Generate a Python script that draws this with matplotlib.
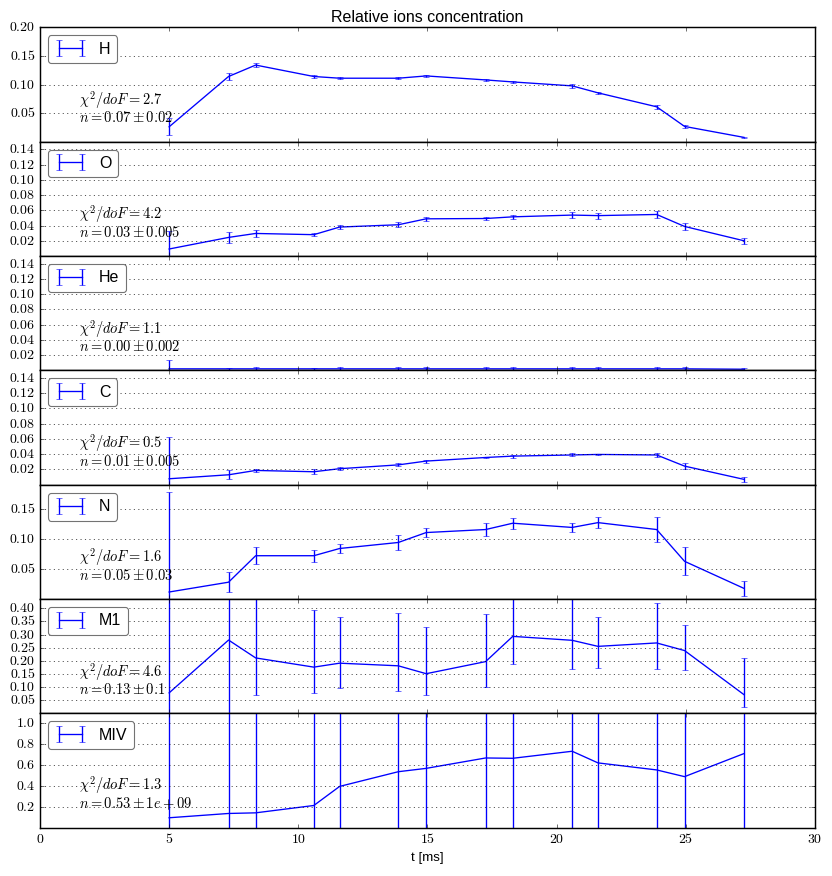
import matplotlib
matplotlib.use("Agg")
import matplotlib.pyplot as plt

plt.style.use('classic')
plt.rcParams['font.family'] = ['Liberation Sans', 'DejaVu Sans']
plt.rcParams['mathtext.fontset'] = 'cm'

t = [5.0, 7.3, 8.35, 10.6, 11.6, 13.87, 14.95, 17.25, 18.3, 20.6, 21.6, 23.87, 24.95, 27.25]

H = [0.026, 0.114, 0.134, 0.114, 0.111, 0.111, 0.115, 0.108, 0.1045, 0.0976, 0.0854, 0.061, 0.0267, 0.0075]
H_err = [0.015, 0.006, 0.003, 0.003, 0.002, 0.002, 0.002, 0.002, 0.002, 0.003, 0.002, 0.004, 0.003, 0.001]

O = [0.0092, 0.0244, 0.0296, 0.028, 0.038, 0.041, 0.0488, 0.0492, 0.0514, 0.0537, 0.053, 0.0545, 0.0388, 0.020]
O_err = [0.023, 0.007, 0.004, 0.002, 0.003, 0.003, 0.003, 0.002, 0.003, 0.004, 0.004, 0.004, 0.005, 0.004]

He = [0.002, 0.002, 0.002, 0.002, 0.002, 0.002, 0.002, 0.002, 0.002, 0.002, 0.002, 0.002, 0.002, 0.0015]
He_err = [0.011, 0.001, 0.003, 0.001, 0.003, 0.003, 0.002, 0.002, 0.002, 0.002, 0.002, 0.002, 0.002, 0.002]

C = [0.0078, 0.013, 0.0187, 0.017, 0.021, 0.026, 0.031, 0.0357, 0.0375, 0.039, 0.0397, 0.039, 0.0244, 0.007]
C_err = [0.055, 0.006, 0.002, 0.003, 0.002, 0.002, 0.002, 0.001, 0.002, 0.002, 0.001, 0.003, 0.004, 0.003]

N = [0.0117, 0.028, 0.072, 0.072, 0.084, 0.094, 0.1105, 0.1155, 0.126, 0.119, 0.127, 0.1155, 0.0627, 0.0177]
N_err = [0.167, 0.017, 0.014, 0.010, 0.008, 0.013, 0.008, 0.011, 0.009, 0.007, 0.009, 0.021, 0.023, 0.013]

M1 = [0.078, 0.279, 0.211, 0.176, 0.191, 0.181, 0.151, 0.197, 0.293, 0.278, 0.255, 0.268, 0.239, 0.0713]
M1_lo = [0.10, 0.30, 0.14, 0.097, 0.094, 0.096, 0.080, 0.0965, 0.106, 0.110, 0.083, 0.100, 0.074, 0.046]
M1_hi = [0.50, 0.40, 0.30, 0.219, 0.177, 0.201, 0.176, 0.183, 0.25, 0.25, 0.113, 0.153, 0.099, 0.139]

MIV = [0.095, 0.136, 0.142, 0.212, 0.394, 0.534, 0.566, 0.665, 0.662, 0.729, 0.618, 0.551, 0.487, 0.707]
MIV_err = [2.0, 2.0, 2.0, 2.0, 2.0, 2.0, 2.0, 2.0, 2.0, 2.0, 2.0, 2.0, 2.0, 2.0]

names = ['H', 'O', 'He', 'C', 'N', 'M1', 'MIV']
chi2 = ['2.7', '4.2', '1.1', '0.5', '1.6', '4.6', '1.3']
n_fit = [r'0.07 \pm 0.02', r'0.03 \pm 0.005', r'0.00 \pm 0.002', r'0.01 \pm 0.005',
         r'0.05 \pm 0.03', r'0.13 \pm 0.1', r'0.53 \pm 1e+09']

series = [(H, H_err), (O, O_err), (He, He_err), (C, C_err), (N, N_err),
          (M1, [M1_lo, M1_hi]), (MIV, MIV_err)]
ylims = [0.2, 0.15, 0.15, 0.15, 0.19, 0.435, 1.09]
yticks = [[0.05, 0.10, 0.15, 0.20],
          [0.02, 0.04, 0.06, 0.08, 0.10, 0.12, 0.14],
          [0.02, 0.04, 0.06, 0.08, 0.10, 0.12, 0.14],
          [0.02, 0.04, 0.06, 0.08, 0.10, 0.12, 0.14],
          [0.05, 0.10, 0.15],
          [0.05, 0.10, 0.15, 0.20, 0.25, 0.30, 0.35, 0.40],
          [0.2, 0.4, 0.6, 0.8, 1.0]]
yfmt = ['%.2f', '%.2f', '%.2f', '%.2f', '%.2f', '%.2f', '%.1f']
xticks = [0, 5, 10, 15, 20, 25, 30]

fig, axes = plt.subplots(7, 1, sharex=True, figsize=(10.4, 10.95), dpi=80)
fig.subplots_adjust(left=0.048, right=0.9796, top=0.9688, bottom=0.0551, hspace=0)

for i, ax in enumerate(axes):
    y, e = series[i]
    ax.errorbar(t, y, yerr=e, color='b', label=names[i], linewidth=1.2, elinewidth=1.2)
    ax.set_ylim(0, ylims[i])
    ax.set_yticks(yticks[i])
    ax.set_yticklabels(['$' + (yfmt[i] % v) + '$' for v in yticks[i]], fontsize=12.5)
    ax.yaxis.grid(True, linestyle=':', color='k', linewidth=0.6)
    ax.xaxis.grid(False)
    ax.set_xlim(0, 30)
    ax.text(0.05, 0.3, r'$\chi^2/doF = %s$' % chi2[i] + '\n' + r'$n = %s$' % n_fit[i],
            transform=ax.transAxes, va='center', ha='left', fontsize=13, linespacing=0.95)
    leg = ax.legend(loc='upper left', fancybox=True, fontsize='large', numpoints=2)
    leg.get_frame().set_edgecolor('0.45')
    leg.get_frame().set_linewidth(1.0)
    for s in ax.spines.values():
        s.set_linewidth(1.3)

axes[-1].set_xticks(xticks)
axes[-1].set_xticklabels(['$%d$' % v for v in xticks], fontsize=12.5)
axes[-1].set_xlabel('t [ms]')
axes[0].set_title('Relative ions concentration', fontsize='large')

fig.savefig('out.png', dpi=80)
